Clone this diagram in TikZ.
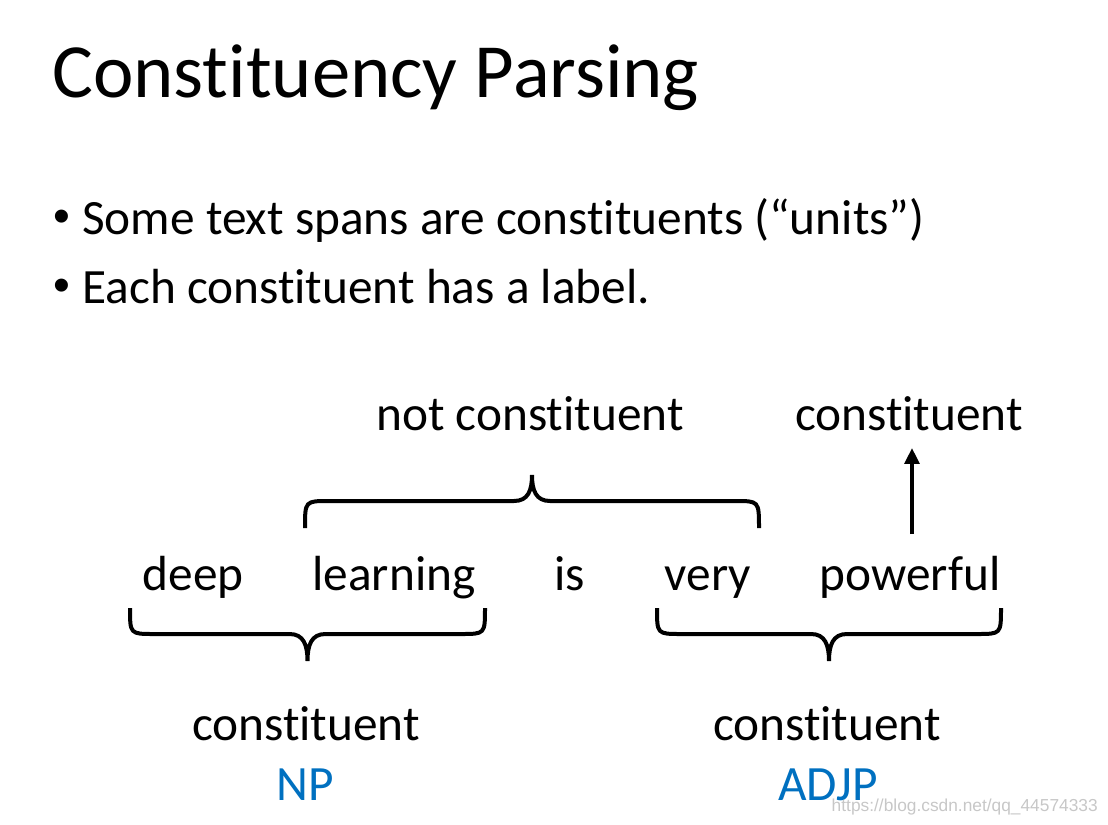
\documentclass[tikz,border=0pt]{standalone}
\usepackage{fontspec}
\setmainfont{Carlito}[Ligatures=NoCommon]
\newfontfamily\wmfont{Liberation Sans}
\usetikzlibrary{arrows.meta}
\definecolor{labelblue}{RGB}{0,112,192}

\begin{document}
\begin{tikzpicture}[x=0.75pt,y=-0.75pt,
    word/.style={inner sep=0pt,anchor=base,font=\fontsize{37}{45}\selectfont},
    tag/.style={word,text=labelblue},
    bracket/.style={line width=3pt},
    pointer/.style={line width=3pt,-{Triangle[length=12pt,width=11pt]}}]

    \useasboundingbox (0,0) rectangle (1108,825);

    % Title and bullets
    \node (title) [inner sep=0pt,anchor=base west,font=\fontsize{57.5}{68}\selectfont] at (52,97) {Constituency Parsing};
    \node (dot1) [word,font=\wmfont\fontsize{36}{44}\selectfont] at (62,232) {•};
    \node (item1) [word,anchor=base west] at (82,234) {Some text spans are constituents (“units”)};
    \node (dot2) [word,font=\wmfont\fontsize{36}{44}\selectfont] at (62,301) {•};
    \node (item2) [word,anchor=base west] at (82,303) {Each constituent has a label.};

    % The sentence
    \node (deep) [word] at (193,590) {deep};
    \node (learning) [word] at (394,590) {learning};
    \node (is) [word] at (570,590) {is};
    \node (very) [word] at (708,590) {very};
    \node (powerful) [word] at (910,590) {powerful};

    % Labels above and below
    \node (notc) [word] at (530,430) {not constituent};
    \node (topc) [word] at (909,430) {constituent};
    \node (leftc) [word] at (306,740) {constituent};
    \node (rightc) [word] at (827,740) {constituent};
    \node (np) [tag] at (305,800) {NP};
    \node (adjp) [tag] at (828,800) {ADJP};

    % Braces: left x / right x / end y / bar y / tip y
    \foreach \xa/\xb/\ye/\yh/\yt in {
    305/759/528/501/475,
    130/485/608/634/661,
    657/1001/608/634/661} {
    \pgfmathsetmacro{\xm}{(\xa+\xb)/2}
    \draw [bracket] (\xa,\ye) .. controls (\xa,\yh) and (\xa,\yh) .. ({\xa+24},\yh)
        -- ({\xm-18},\yh) .. controls ({\xm-4},\yh) and (\xm,{\yh+0.4*(\yt-\yh)}) .. (\xm,\yt)
        .. controls (\xm,{\yh+0.4*(\yt-\yh)}) and ({\xm+4},\yh) .. ({\xm+18},\yh)
        -- ({\xb-24},\yh) .. controls (\xb,\yh) and (\xb,\yh) .. (\xb,\ye);
    }

    \draw [pointer,shorten <=16pt,shorten >=13pt] ([xshift=1.5pt]powerful.north) -- ([xshift=1.5pt]powerful.north |- topc.south);

    % Watermark
    \node (mark) [inner sep=0pt,anchor=base east,text=black!22,font=\wmfont\fontsize{13}{15}\selectfont] at (1098,811) {https://blog.csdn.net/qq\_44574333};

\end{tikzpicture}
\end{document}
